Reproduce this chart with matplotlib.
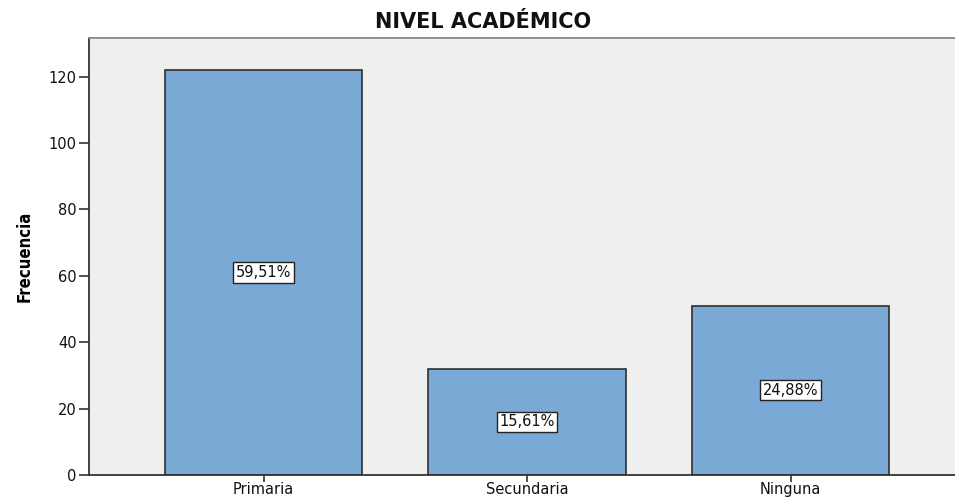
import matplotlib
matplotlib.use("Agg")
import matplotlib.pyplot as plt
from matplotlib import font_manager

categories = ["Primaria", "Secundaria", "Ninguna"]
frequencies = [122, 32, 51]
percent_labels = ["59,51%", "15,61%", "24,88%"]
yticks = [0, 20, 40, 60, 80, 100, 120]

condensed_ok = any(("Condensed" in f.fname) and f.name == "DejaVu Sans"
                   for f in font_manager.fontManager.ttflist)

fig = plt.figure(figsize=(9.55, 4.97), dpi=100)
ax = fig.add_axes([0.0932, 0.0443, 0.9068 + 0.01, 0.8795])
ax.set_facecolor("#efefef")

x = list(range(len(categories)))
ax.bar(x, frequencies, width=0.75, color="#7aa9d6", edgecolor="#2f2f2f", linewidth=1.2, zorder=2)

for xi, v, lab in zip(x, frequencies, percent_labels):
    ax.text(xi, v / 2, lab, ha="center", va="center", fontsize=10.5, family="DejaVu Sans",
            color="#111111", zorder=3,
            bbox=dict(boxstyle="square,pad=0.18", facecolor="white", edgecolor="#222222", linewidth=1.0))

ax.set_xlim(-0.663, 2.66)
ax.set_ylim(0, 131.7)
ax.set_xticks(x)
ax.set_xticklabels(categories, fontsize=10.5, family="DejaVu Sans", color="#111111")
ax.set_yticks(yticks)
ax.set_yticklabels([str(t) for t in yticks], fontsize=10.5, family="DejaVu Sans", color="#111111")
ax.tick_params(axis="y", length=7, width=1.2, color="#333333", pad=2)
ax.tick_params(axis="x", length=5, width=1.2, color="#333333", pad=0)

ax.spines["left"].set_color("#333333")
ax.spines["left"].set_linewidth(1.3)
ax.spines["bottom"].set_color("#333333")
ax.spines["bottom"].set_linewidth(1.3)
ax.spines["top"].set_color("#888888")
ax.spines["top"].set_linewidth(1.3)
ax.spines["right"].set_visible(False)

if condensed_ok:
    ax.set_ylabel("Frecuencia", fontsize=12, fontweight="bold", family="DejaVu Sans",
                  fontstretch="condensed", labelpad=11)
else:
    ax.set_ylabel("Frecuencia", fontsize=10, fontweight="bold", family="DejaVu Sans", labelpad=12)

fig.text(0.506, 0.955, "NIVEL ACADÉMICO", ha="center", va="center", fontsize=15,
         fontweight="bold", family="DejaVu Sans", color="#111111")

fig.savefig("out.png", dpi=100)
